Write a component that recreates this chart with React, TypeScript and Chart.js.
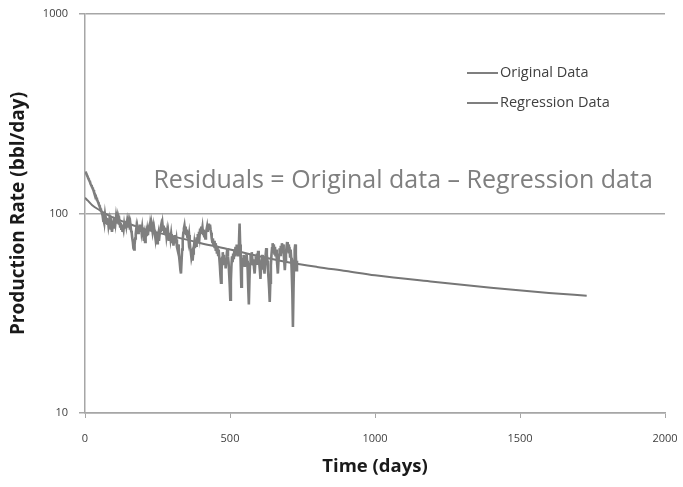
import React, { useEffect, useRef } from "react";
import { Chart, registerables } from "chart.js";

Chart.register(...registerables);

// Measured production, one reading every 2 days starting at day 1
const originalStartDay = 1;
const originalStepDays = 2;
const originalRate = [
  // days 1-59
  162, 160, 158, 155, 153, 150, 148, 146, 144, 141, 139, 137, 135, 133, 131,
  128, 126, 124, 122, 120, 118, 116, 114, 112, 110, 108, 106, 104, 102, 100,
  // days 61-159
  97, 92, 96, 91, 98, 93, 90, 95, 89, 93,
  87, 91, 85, 89, 83, 87, 81, 86, 89, 84,
  90, 95, 90, 96, 91, 95, 89, 93, 88, 91,
  86, 90, 84, 88, 82, 86, 83, 88, 84, 89,
  92, 87, 91, 86, 90, 85, 89, 83, 87, 82,
  // days 161-259
  80, 75, 72, 67, 66, 70, 75, 79, 84, 79,
  84, 80, 86, 82, 88, 83, 87, 81, 85, 79,
  78, 73, 77, 72, 76, 80, 77, 82, 78, 84,
  86, 82, 88, 84, 89, 85, 81, 85, 79, 83,
  79, 75, 80, 74, 71, 76, 79, 73, 78, 82,
  // days 261-359
  85, 88, 85, 89, 83, 87, 81, 85, 79, 83,
  77, 81, 75, 79, 73, 77, 80, 75, 79, 74,
  72, 76, 69, 74, 78, 74, 71, 74, 68, 66,
  70, 64, 60, 56, 52, 50, 58, 66, 74, 80,
  84, 87, 82, 86, 79, 83, 76, 80, 74, 78,
  // days 361-459
  72, 67, 64, 60, 62, 58, 63, 67, 71, 67,
  74, 69, 76, 72, 79, 74, 81, 77, 84, 79,
  86, 81, 85, 79, 83, 77, 81, 75, 79, 83,
  86, 81, 87, 89, 84, 88, 83, 80, 75, 72,
  75, 69, 73, 67, 71, 65, 69, 63, 67, 62,
  // days 461-559
  66, 60, 55, 49, 45, 52, 60, 64, 57, 62,
  55, 60, 53, 58, 63, 67, 61, 57, 50, 44,
  37, 46, 55, 61, 57, 63, 59, 66, 61, 68,
  63, 70, 65, 61, 65, 72, 89, 70, 55, 43,
  52, 60, 55, 62, 57, 54, 60, 56, 63, 58,
  // days 561-659
  52, 42, 35, 46, 56, 62, 57, 64, 59, 55,
  59, 53, 50, 56, 61, 56, 63, 58, 65, 60,
  56, 52, 47, 53, 58, 62, 56, 61, 54, 50,
  56, 62, 67, 62, 58, 52, 47, 42, 36, 45,
  55, 62, 67, 71, 65, 70, 63, 68, 61, 66,
  // days 661-731
  60, 55, 50, 57, 62, 67, 62, 69, 64, 71,
  65, 70, 63, 58, 52, 58, 63, 68, 72, 65,
  70, 63, 68, 61, 66, 60, 50, 40, 27, 42,
  58, 66, 70, 62, 52, 58,
];

// Fitted decline curve
const regressionDays = [0, 10, 25, 50, 75, 100, 150, 200, 300, 400, 500, 600, 700, 800, 900, 1000, 1200, 1400, 1600, 1730];
const regressionRate = [120, 116, 110, 104, 99, 95, 89, 84, 77, 71, 66, 61, 57, 54, 51.5, 49, 45.5, 42.5, 40, 38.7];

const seriesNames = ["Original Data", "Regression Data"];
const xTicks = [0, 500, 1000, 1500, 2000];
const yTicks = [10, 100, 1000];
const xTitle = "Time (days)";
const yTitle = "Production Rate (bbl/day)";
const annotationText = "Residuals = Original data \u2013 Regression data";
const annotationDay = 1097;
const annotationRate = 145;

const LINE_GREY = "#7f7f7f";
const AXIS_GREY = "#a6a6a6";
const TEXT_DARK = "#404040";
const FONT = "'Open Sans', 'DejaVu Sans', sans-serif";

const overlayPlugin = {
  id: "residualOverlay",
  afterDatasetsDraw(chart: any) {
    const { ctx, chartArea, scales } = chart;
    ctx.save();

    // Centre annotation
    ctx.font = `25px ${FONT}`;
    ctx.fillStyle = "#7f7f7f";
    ctx.textAlign = "center";
    ctx.textBaseline = "middle";
    ctx.fillText(
      annotationText,
      scales.x.getPixelForValue(annotationDay),
      scales.y.getPixelForValue(annotationRate)
    );

    // Legend in the upper right of the plot area
    const lx = chartArea.left + 382;
    const ly = chartArea.top + 59;
    ctx.font = `14.5px ${FONT}`;
    ctx.textAlign = "left";
    seriesNames.forEach((name, i) => {
      const y = ly + i * 30;
      ctx.strokeStyle = LINE_GREY;
      ctx.lineWidth = 2;
      ctx.beginPath();
      ctx.moveTo(lx, y);
      ctx.lineTo(lx + 31, y);
      ctx.stroke();
      ctx.fillStyle = TEXT_DARK;
      ctx.fillText(name, lx + 33, y);
    });

    ctx.restore();
  },
};

export default function App() {
  const canvasRef = useRef<HTMLCanvasElement | null>(null);

  useEffect(() => {
    const canvas = canvasRef.current;
    if (!canvas) return;

    const originalPoints = originalRate.map((v, i) => ({
      x: originalStartDay + i * originalStepDays,
      y: v,
    }));
    const regressionPoints = regressionDays.map((d, i) => ({ x: d, y: regressionRate[i] }));

    const chart = new Chart(canvas, {
      type: "line",
      data: {
        datasets: [
          {
            label: seriesNames[0],
            data: originalPoints,
            borderColor: LINE_GREY,
            borderWidth: 2.6,
            pointRadius: 0,
            tension: 0,
          },
          {
            label: seriesNames[1],
            data: regressionPoints,
            borderColor: "#767676",
            borderWidth: 2,
            pointRadius: 0,
            cubicInterpolationMode: "monotone",
          },
        ],
      },
      options: {
        responsive: false,
        animation: false,
        devicePixelRatio: 1,
        layout: { padding: { top: 14, right: 18, left: 0, bottom: 0 } },
        plugins: {
          legend: { display: false },
          tooltip: { enabled: false },
        },
        scales: {
          x: {
            type: "linear",
            min: 0,
            max: 2000,
            afterBuildTicks: (scale: any) => {
              scale.ticks = xTicks.map((v) => ({ value: v }));
            },
            afterFit: (scale: any) => {
              scale.height = 74;
              scale.paddingLeft = 0;
              scale.paddingRight = 0;
            },
            grid: {
              drawOnChartArea: false,
              drawTicks: true,
              tickLength: 5,
              color: AXIS_GREY,
            },
            border: { color: AXIS_GREY, width: 1.5 },
            ticks: {
              color: TEXT_DARK,
              font: { family: FONT, size: 11 },
              padding: 14,
              maxRotation: 0,
              callback: (v: any) => String(v),
            },
            title: {
              display: true,
              text: xTitle,
              color: "#1a1a1a",
              font: { family: FONT, size: 18.5, weight: "bold" },
              padding: { top: 0, bottom: 9 },
            },
          },
          y: {
            type: "logarithmic",
            min: 10,
            max: 1000,
            afterBuildTicks: (scale: any) => {
              scale.ticks = yTicks.map((v) => ({ value: v }));
            },
            afterFit: (scale: any) => {
              scale.width = 85;
              scale.paddingTop = 0;
              scale.paddingBottom = 0;
            },
            grid: {
              drawOnChartArea: true,
              drawTicks: true,
              tickLength: 6,
              color: AXIS_GREY,
              lineWidth: 1.5,
            },
            border: { color: AXIS_GREY, width: 1.5 },
            ticks: {
              color: TEXT_DARK,
              font: { family: FONT, size: 11 },
              padding: 11,
              callback: (v: any) => String(v),
            },
            title: {
              display: true,
              text: yTitle,
              color: "#1a1a1a",
              font: { family: FONT, size: 19, weight: "bold" },
              padding: { top: 7, bottom: 0 },
            },
          },
        },
      },
      plugins: [overlayPlugin],
    });

    return () => chart.destroy();
  }, []);

  return (
    <div style={{ position: "fixed", left: 0, top: 0, width: 683, height: 487, background: "#ffffff" }}>
      <canvas ref={canvasRef} width={683} height={487} />
    </div>
  );
}
